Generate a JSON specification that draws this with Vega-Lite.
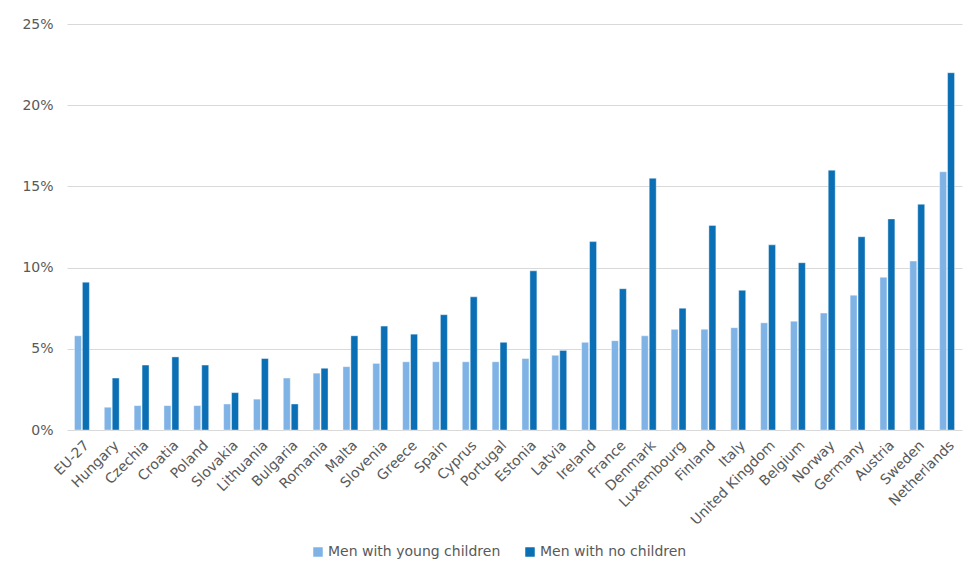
{
  "$schema": "https://vega.github.io/schema/vega-lite/v6.json",
  "width": 895,
  "height": 406,
  "autosize": {"type": "none"},
  "padding": {"left": 67, "top": 24, "right": 15, "bottom": 144},
  "background": "white",
  "data": {
    "values": [
      {"country": "EU-27", "group": "Men with young children", "value": 5.8},
      {"country": "EU-27", "group": "Men with no children", "value": 9.1},
      {"country": "Hungary", "group": "Men with young children", "value": 1.4},
      {"country": "Hungary", "group": "Men with no children", "value": 3.2},
      {"country": "Czechia", "group": "Men with young children", "value": 1.5},
      {"country": "Czechia", "group": "Men with no children", "value": 4.0},
      {"country": "Croatia", "group": "Men with young children", "value": 1.5},
      {"country": "Croatia", "group": "Men with no children", "value": 4.5},
      {"country": "Poland", "group": "Men with young children", "value": 1.5},
      {"country": "Poland", "group": "Men with no children", "value": 4.0},
      {"country": "Slovakia", "group": "Men with young children", "value": 1.6},
      {"country": "Slovakia", "group": "Men with no children", "value": 2.3},
      {"country": "Lithuania", "group": "Men with young children", "value": 1.9},
      {"country": "Lithuania", "group": "Men with no children", "value": 4.4},
      {"country": "Bulgaria", "group": "Men with young children", "value": 3.2},
      {"country": "Bulgaria", "group": "Men with no children", "value": 1.6},
      {"country": "Romania", "group": "Men with young children", "value": 3.5},
      {"country": "Romania", "group": "Men with no children", "value": 3.8},
      {"country": "Malta", "group": "Men with young children", "value": 3.9},
      {"country": "Malta", "group": "Men with no children", "value": 5.8},
      {"country": "Slovenia", "group": "Men with young children", "value": 4.1},
      {"country": "Slovenia", "group": "Men with no children", "value": 6.4},
      {"country": "Greece", "group": "Men with young children", "value": 4.2},
      {"country": "Greece", "group": "Men with no children", "value": 5.9},
      {"country": "Spain", "group": "Men with young children", "value": 4.2},
      {"country": "Spain", "group": "Men with no children", "value": 7.1},
      {"country": "Cyprus", "group": "Men with young children", "value": 4.2},
      {"country": "Cyprus", "group": "Men with no children", "value": 8.2},
      {"country": "Portugal", "group": "Men with young children", "value": 4.2},
      {"country": "Portugal", "group": "Men with no children", "value": 5.4},
      {"country": "Estonia", "group": "Men with young children", "value": 4.4},
      {"country": "Estonia", "group": "Men with no children", "value": 9.8},
      {"country": "Latvia", "group": "Men with young children", "value": 4.6},
      {"country": "Latvia", "group": "Men with no children", "value": 4.9},
      {"country": "Ireland", "group": "Men with young children", "value": 5.4},
      {"country": "Ireland", "group": "Men with no children", "value": 11.6},
      {"country": "France", "group": "Men with young children", "value": 5.5},
      {"country": "France", "group": "Men with no children", "value": 8.7},
      {"country": "Denmark", "group": "Men with young children", "value": 5.8},
      {"country": "Denmark", "group": "Men with no children", "value": 15.5},
      {"country": "Luxembourg", "group": "Men with young children", "value": 6.2},
      {"country": "Luxembourg", "group": "Men with no children", "value": 7.5},
      {"country": "Finland", "group": "Men with young children", "value": 6.2},
      {"country": "Finland", "group": "Men with no children", "value": 12.6},
      {"country": "Italy", "group": "Men with young children", "value": 6.3},
      {"country": "Italy", "group": "Men with no children", "value": 8.6},
      {"country": "United Kingdom", "group": "Men with young children", "value": 6.6},
      {"country": "United Kingdom", "group": "Men with no children", "value": 11.4},
      {"country": "Belgium", "group": "Men with young children", "value": 6.7},
      {"country": "Belgium", "group": "Men with no children", "value": 10.3},
      {"country": "Norway", "group": "Men with young children", "value": 7.2},
      {"country": "Norway", "group": "Men with no children", "value": 16.0},
      {"country": "Germany", "group": "Men with young children", "value": 8.3},
      {"country": "Germany", "group": "Men with no children", "value": 11.9},
      {"country": "Austria", "group": "Men with young children", "value": 9.4},
      {"country": "Austria", "group": "Men with no children", "value": 13.0},
      {"country": "Sweden", "group": "Men with young children", "value": 10.4},
      {"country": "Sweden", "group": "Men with no children", "value": 13.9},
      {"country": "Netherlands", "group": "Men with young children", "value": 15.9},
      {"country": "Netherlands", "group": "Men with no children", "value": 22.0}
    ]
  },
  "mark": {"type": "bar", "stroke": "#ffffff", "strokeOpacity": 0.5, "strokeWidth": 0.8},
  "encoding": {
    "x": {
      "field": "country",
      "type": "nominal",
      "sort": null,
      "scale": {"paddingInner": 0.5, "paddingOuter": 0.25},
      "axis": {
        "title": null,
        "labelAngle": -45,
        "labelAlign": "right",
        "labelBaseline": "top",
        "labelFont": "DejaVu Sans",
        "labelFontSize": 14,
        "labelColor": "#595959",
        "labelPadding": 8,
        "labelLimit": 300,
        "ticks": false,
        "domain": false,
        "grid": false
      }
    },
    "xOffset": {
      "field": "group",
      "type": "nominal",
      "sort": ["Men with young children", "Men with no children"],
      "scale": {"paddingInner": 0.12}
    },
    "y": {
      "field": "value",
      "type": "quantitative",
      "scale": {"domain": [0, 25]},
      "axis": {
        "title": null,
        "values": [0, 5, 10, 15, 20, 25],
        "labelExpr": "datum.value + '%'",
        "labelFont": "DejaVu Sans",
        "labelFontSize": 14,
        "labelColor": "#595959",
        "labelPadding": 14,
        "ticks": false,
        "domain": false,
        "grid": true,
        "gridColor": "#d9d9d9",
        "gridWidth": 1.2
      }
    },
    "color": {
      "field": "group",
      "type": "nominal",
      "sort": ["Men with young children", "Men with no children"],
      "scale": {
        "domain": ["Men with young children", "Men with no children"],
        "range": ["#7fb2e5", "#0a6fb4"]
      },
      "legend": {
        "title": null,
        "orient": "none",
        "direction": "horizontal",
        "legendX": 244,
        "legendY": 521,
        "symbolType": "square",
        "symbolSize": 90,
        "symbolStrokeWidth": 0,
        "labelFont": "DejaVu Sans",
        "labelFontSize": 14,
        "labelColor": "#595959",
        "labelOffset": 3,
        "labelLimit": 400,
        "columnPadding": 22
      }
    }
  },
  "config": {"view": {"stroke": null}}
}
